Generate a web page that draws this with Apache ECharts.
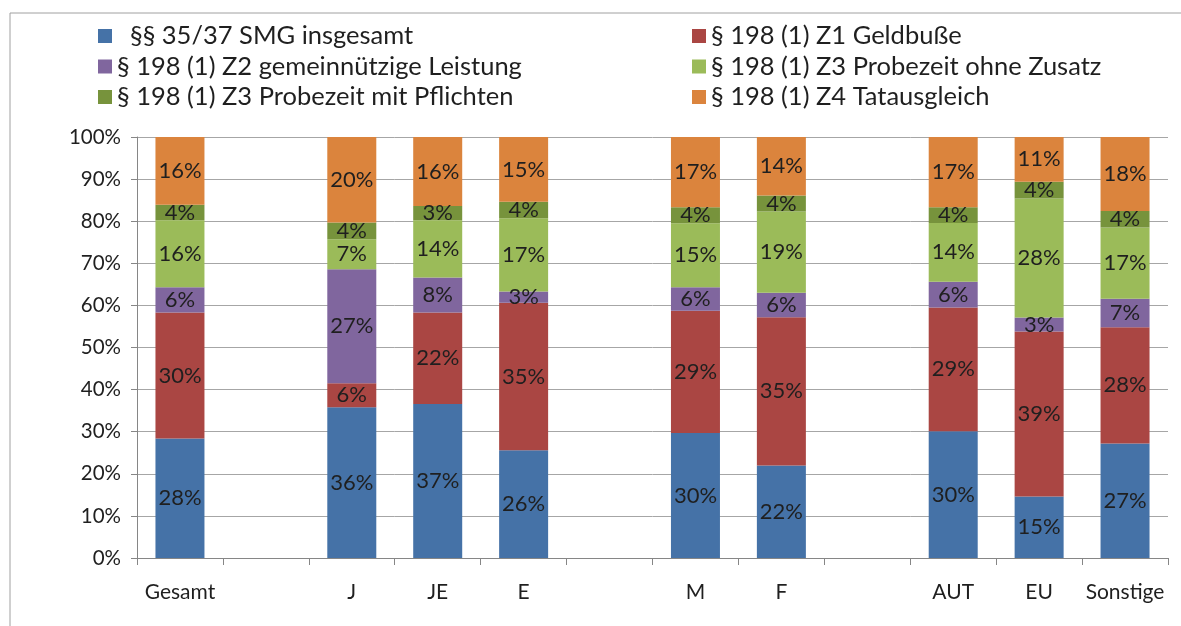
<!DOCTYPE html>
<html>
<head>
<meta charset="utf-8">
<script src="https://cdn.jsdelivr.net/npm/echarts@6/dist/echarts.min.js"></script>
<style>
  html, body { margin: 0; padding: 0; background: #fff; }
  #chart { width: 1181px; height: 626px; }
</style>
</head>
<body>
<div id="chart"></div>
<script>
// categories (empty strings are the gaps between groups)
const categories = ['Gesamt', '', 'J', 'JE', 'E', '', 'M', 'F', '', 'AUT', 'EU', 'Sonstige']

// shares in percent
const smg      = [28.4, null, 35.8, 36.6, 25.6, null, 29.7, 22.0, null, 30.1, 14.6, 27.2]
const geldbusse = [29.9, null, 5.7, 21.7, 35.0, null, 29.0, 35.2, null, 29.4, 39.2, 27.6]
const leistung = [6.0, null, 27.1, 8.3, 2.7, null, 5.6, 5.8, null, 6.1, 3.3, 6.8]
const probeOhne = [15.9, null, 7.1, 13.6, 17.4, null, 15.2, 19.3, null, 14.0, 28.3, 16.9]
const probeMit = [3.7, null, 4.0, 3.4, 3.9, null, 3.8, 3.8, null, 3.7, 4.0, 3.9]
const tatausgleich = [16.1, null, 20.3, 16.4, 15.4, null, 16.7, 13.9, null, 16.7, 10.6, 17.6]

const names = [
  '  §§ 35/37 SMG insgesamt',
  '§ 198 (1) Z1 Geldbuße',
  '§ 198 (1) Z2 gemeinnützige Leistung',
  '§ 198 (1) Z3 Probezeit ohne Zusatz',
  '§ 198 (1) Z3 Probezeit mit Pflichten',
  '§ 198 (1) Z4 Tatausgleich'
]
const colors = ['#4572A7', '#AA4643', '#80669E', '#9BBB59', '#77933C', '#DB843D']
const values = [smg, geldbusse, leistung, probeOhne, probeMit, tatausgleich]

const font = 'Lato, "Open Sans", sans-serif'
const textColor = '#1f1f1f'

const chart = echarts.init(document.getElementById('chart'))

const legendBase = {
  orient: 'vertical',
  top: 18,
  itemWidth: 14,
  itemHeight: 14,
  itemGap: 4.5,
  icon: 'rect',
  selectedMode: false,
  textStyle: { fontFamily: font, fontSize: 25.5, color: textColor, lineHeight: 26 }
}

chart.setOption({
  animation: false,
  color: colors,
  graphic: [{
    type: 'rect',
    shape: { x: 10, y: 13, width: 1400, height: 800 },
    style: { fill: 'none', stroke: '#A0A0A0', lineWidth: 1 },
    silent: true
  }],
  legend: [
    { ...legendBase, left: 93, data: [names[0], names[2], names[4]] },
    { ...legendBase, left: 687, data: [names[1], names[3], names[5]] }
  ],
  grid: { left: 137, right: 13, top: 137, bottom: 68 },
  xAxis: {
    type: 'category',
    data: categories,
    axisLine: { lineStyle: { color: '#868686' } },
    axisTick: { show: true, length: 7, lineStyle: { color: '#868686' } },
    axisLabel: { fontFamily: font, fontSize: 21, color: textColor, margin: 24, interval: 0 }
  },
  yAxis: {
    type: 'value',
    min: 0,
    max: 100,
    interval: 10,
    axisLine: { show: true, lineStyle: { color: '#868686' } },
    axisTick: { show: true, inside: false, length: 6, lineStyle: { color: '#868686' } },
    axisLabel: { fontFamily: font, fontSize: 20.5, color: textColor, margin: 16, formatter: '{value}%' },
    splitLine: { lineStyle: { color: '#A6A6A6' } }
  },
  series: values.map((v, i) => ({
    name: names[i],
    type: 'bar',
    stack: 'total',
    barWidth: 49,
    data: v,
    itemStyle: { color: colors[i] },
    label: {
      show: true,
      position: 'inside',
      fontFamily: font,
      fontSize: 22,
      color: textColor,
      formatter: (p) => Math.round(p.value) + '%'
    }
  }))
})
</script>
</body>
</html>
